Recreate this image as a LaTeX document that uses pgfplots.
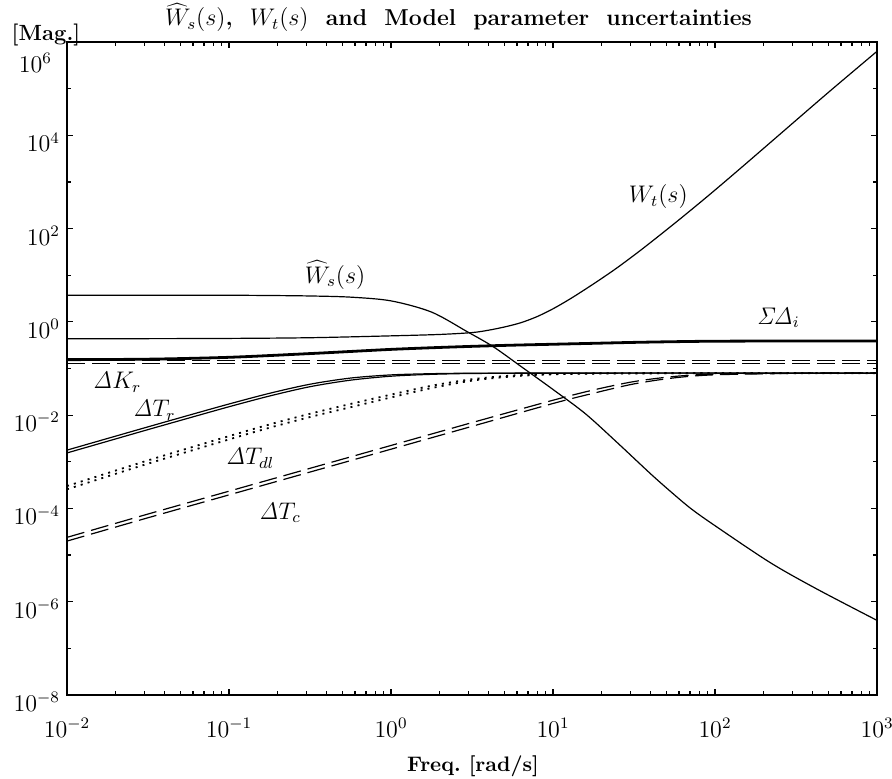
\documentclass[border=0pt]{standalone}
\usepackage{pgfplots}
\pgfplotsset{compat=1.18}
\begin{document}
\begin{tikzpicture}
\useasboundingbox (-33.5pt,-41.5pt) rectangle (412.5pt,347.5pt);
\begin{axis}[
  at={(0,0)}, anchor=south west,
  scale only axis, width=405pt, height=326.5pt,
  xmin=-2, xmax=3, ymin=-8, ymax=6,
  xtick={-2,-1,0,1,2,3}, ytick={-8,-6,-4,-2,0,2,4,6},
  minor xtick={-1.69897,-1.52288,-1.39794,-1.30103,-1.22185,-1.15490,-1.09691,-1.04576,
               -0.69897,-0.52288,-0.39794,-0.30103,-0.22185,-0.15490,-0.09691,-0.04576,
               0.30103,0.47712,0.60206,0.69897,0.77815,0.84510,0.90309,0.95424,
               1.30103,1.47712,1.60206,1.69897,1.77815,1.84510,1.90309,1.95424,
               2.30103,2.47712,2.60206,2.69897,2.77815,2.84510,2.90309,2.95424},
  minor ytick={-7,-5,-3,-1,1,3,5},
  xticklabels={$10^{-2}$,$10^{-1}$,$10^{0}$,$10^{1}$,$10^{2}$,$10^{3}$},
  yticklabels={$10^{-8}$,$10^{-6}$,$10^{-4}$,$10^{-2}$,$10^{0}$,$10^{2}$,$10^{4}$,{}},
  tick label style={font=\fontsize{11.5}{13}\selectfont},
  x tick label style={yshift=-8pt},
  y tick label style={yshift=-3.5pt},
  major tick length=3pt, minor tick length=2pt,
  axis line style={line width=0.8pt},
  every tick/.style={black, line width=0.6pt},
  clip=false,
]
% W_t(s)
\addplot[black, line width=0.6pt, smooth] coordinates {
(-2,-0.36) (-1.5,-0.36) (-1,-0.355) (-0.5,-0.34) (0,-0.30) (0.3,-0.27) (0.5,-0.23)
(0.6,-0.18) (0.7,-0.11) (0.8,-0.02) (0.9,0.11) (1.0,0.28) (1.1,0.48) (1.2,0.70) (1.3,0.93)
(1.4,1.17) (1.55,1.56) (1.75,2.11) (1.95,2.68) (2.15,3.27) (2.4,4.02) (2.7,4.92) (3.0,5.80)};
% hat W_s(s)
\addplot[black, line width=0.6pt, smooth] coordinates {
(-2,0.57) (-1.5,0.57) (-1,0.57) (-0.75,0.565) (-0.5,0.555) (-0.25,0.53) (0,0.45)
(0.25,0.21) (0.47,-0.21) (0.63,-0.53) (0.8,-0.95) (1.0,-1.45) (1.2,-1.97) (1.4,-2.60)
(1.6,-3.25) (1.72,-3.62) (1.85,-4.0) (2.0,-4.37) (2.34,-5.16) (2.63,-5.73) (3.0,-6.40)};
% Sum Delta_i
\addplot[black, line width=1.4pt, smooth] coordinates {
(-2,-0.81) (-1.5,-0.80) (-1,-0.76) (-0.5,-0.68) (-0.25,-0.635) (0,-0.59) (0.25,-0.555)
(0.5,-0.525) (0.75,-0.50) (1,-0.48) (1.25,-0.46) (1.5,-0.44) (1.75,-0.425) (2,-0.415)
(2.5,-0.41) (3,-0.41)};
% Delta K_r (double dashed, flat)
\addplot[black, line width=0.6pt, dash pattern=on 9pt off 3.5pt] coordinates {(-2,-0.82) (3,-0.82)};
\addplot[black, line width=0.6pt, dash pattern=on 9pt off 3.5pt] coordinates {(-2,-0.89) (3,-0.89)};
% Delta T_r (double solid)
\addplot[black, line width=0.6pt, smooth] coordinates {
(-2,-2.75) (-1.75,-2.50) (-1.5,-2.251) (-1.25,-2.004) (-1,-1.761) (-0.75,-1.532)
(-0.5,-1.337) (-0.25,-1.205) (0,-1.137) (0.25,-1.111) (0.5,-1.101) (1,-1.098) (3,-1.097)};
\addplot[black, line width=0.6pt, smooth] coordinates {
(-2,-2.81) (-1.75,-2.56) (-1.5,-2.31) (-1.25,-2.064) (-1,-1.82) (-0.75,-1.59)
(-0.5,-1.39) (-0.25,-1.25) (0,-1.165) (0.25,-1.125) (0.5,-1.107) (1,-1.10) (3,-1.10)};
% Delta T_dl (double dotted)
\addplot[black, line width=0.9pt, dash pattern=on 1pt off 2.6pt, smooth] coordinates {
(-2,-3.52) (-1.5,-2.97) (-1,-2.45) (-0.75,-2.20) (-0.5,-1.97) (-0.25,-1.76) (0,-1.56)
(0.25,-1.37) (0.5,-1.23) (0.75,-1.15) (1,-1.115) (1.5,-1.10) (3,-1.097)};
\addplot[black, line width=0.9pt, dash pattern=on 1pt off 2.6pt, smooth] coordinates {
(-2,-3.59) (-1.5,-3.04) (-1,-2.52) (-0.75,-2.27) (-0.5,-2.04) (-0.25,-1.83) (0,-1.62)
(0.25,-1.42) (0.5,-1.26) (0.75,-1.17) (1,-1.125) (1.5,-1.105) (3,-1.10)};
% Delta T_c (double dashed)
\addplot[black, line width=0.6pt, dash pattern=on 9pt off 3.5pt, smooth] coordinates {
(-2,-4.62) (-1.5,-4.12) (-1,-3.63) (-0.5,-3.14) (0,-2.65) (0.5,-2.16) (1,-1.68)
(1.25,-1.46) (1.5,-1.28) (1.75,-1.17) (2,-1.12) (2.5,-1.10) (3,-1.097)};
\addplot[black, line width=0.6pt, dash pattern=on 9pt off 3.5pt, smooth] coordinates {
(-2,-4.70) (-1.5,-4.20) (-1,-3.71) (-0.5,-3.22) (0,-2.73) (0.5,-2.24) (1,-1.75)
(1.25,-1.53) (1.5,-1.33) (1.75,-1.20) (2,-1.135) (2.5,-1.105) (3,-1.10)};
% curve labels
\begin{scope}[every node/.style={font=\fontsize{12}{14}\selectfont}]
\node at (axis cs:-0.345,1.01) {$\widehat{W}_s(s)$};
\node at (axis cs:1.65,2.68) {$W_t(s)$};
\node at (axis cs:2.39,0.09) {$\mathit{\Sigma}\mathit{\Delta}_i$};
\node at (axis cs:-1.69,-1.30) {$\mathit{\Delta}K_r$};
\node at (axis cs:-1.46,-1.90) {$\mathit{\Delta}T_r$};
\node at (axis cs:-0.87,-2.93) {$\mathit{\Delta}T_{dl}$};
\node at (axis cs:-0.685,-4.09) {$\mathit{\Delta}T_c$};
\end{scope}
\end{axis}
\node[font=\bfseries\fontsize{11.5}{13}\selectfont, anchor=base] at (195.75pt,334.5pt)
  {$\widehat{W}_s(s)$,\ \ $W_t(s)$\ \ and\ \ Model\ \ parameter\ \ uncertainties};
\node[font=\bfseries\fontsize{11}{13}\selectfont] at (-10.5pt,330pt) {[Mag.]};
\node[font=\fontsize{11.5}{13}\selectfont, anchor=east] at (-4pt,316pt) {$10^{6}$};
\node[font=\bfseries\fontsize{10.5}{12}\selectfont] at (203pt,-35.5pt) {Freq.\ [rad/s]};
\end{tikzpicture}
\end{document}
